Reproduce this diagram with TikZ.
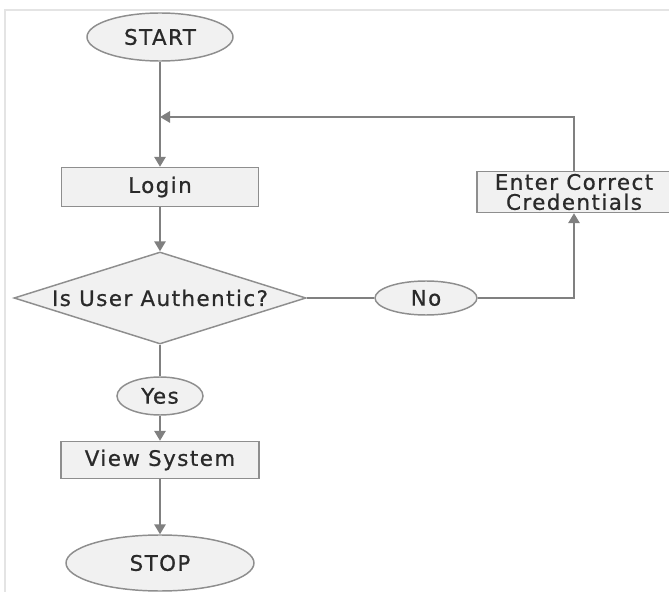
\documentclass[tikz,border=0pt]{standalone}
\usepackage{xcolor}
\usepackage{fontspec}
\usepackage{tikz}
\usetikzlibrary{arrows.meta,calc,shapes.geometric}
\newfontfamily\flowfont[LetterSpace=7,FakeBold=0.8]{DejaVu Sans}
\definecolor{linegray}{HTML}{808080}
\definecolor{edgegray}{HTML}{8E8E8E}
\definecolor{boxfill}{HTML}{F1F1F1}
\definecolor{textgray}{HTML}{2A2A2A}
\definecolor{framegray}{HTML}{E4E4E4}

\begin{document}
\begin{tikzpicture}[>={Triangle[length=7.5pt,width=8.5pt]}, x=0.75pt, y=-0.75pt,
    shapebase/.style={draw=edgegray, line width=1.1pt, fill=boxfill, text=textgray,
      inner sep=0pt, font=\flowfont\fontsize{16}{19}\selectfont},
    sz/.style 2 args={minimum width=#1*0.75pt, minimum height=#2*0.75pt},
    oval/.style={shapebase, ellipse},
    procbox/.style={shapebase, rectangle},
    decision/.style={shapebase, diamond, aspect=3.17},
    flow/.style={draw=linegray, line width=1.5pt}]
  \useasboundingbox (0,0) rectangle (669,592);
  \draw[framegray, line width=0.8pt] (5,592) -- (5,10) -- (669,10);
  \node[oval, sz={146}{48}] (start) at (160,37) {START};
  \node[procbox, sz={197}{39}] (login) at (160,187) {Login};
  \node[decision, sz={292}{92}] (auth) at (160,298) {Is User Authentic?};
  \node[oval, sz={102}{34}] (no) at (426,298) {No};
  \node[procbox, sz={194}{41}, align=center] (creds) at (574,192)
    {Enter Correct\\[-4pt]Credentials};
  \node[oval, sz={86}{38}] (yes) at (160,396) {Yes};
  \node[procbox, sz={198}{37}] (view) at (160,460) {View System};
  \node[oval, sz={188}{56}] (stop) at (160,563) {STOP};
  \coordinate (back) at (160,117);
  \draw[flow, ->] (start) -- (login);
  \draw[flow, ->] (login) -- (auth);
  \draw[flow] (auth.east) -- (no.west);
  \draw[flow, ->] (no.east) -| (creds.south);
  \draw[flow, ->] (creds.north) |- (back);
  \draw[flow] (auth.south) -- (yes.north);
  \draw[flow, ->] (yes) -- (view);
  \draw[flow, ->] (view) -- (stop);
\end{tikzpicture}
\end{document}
